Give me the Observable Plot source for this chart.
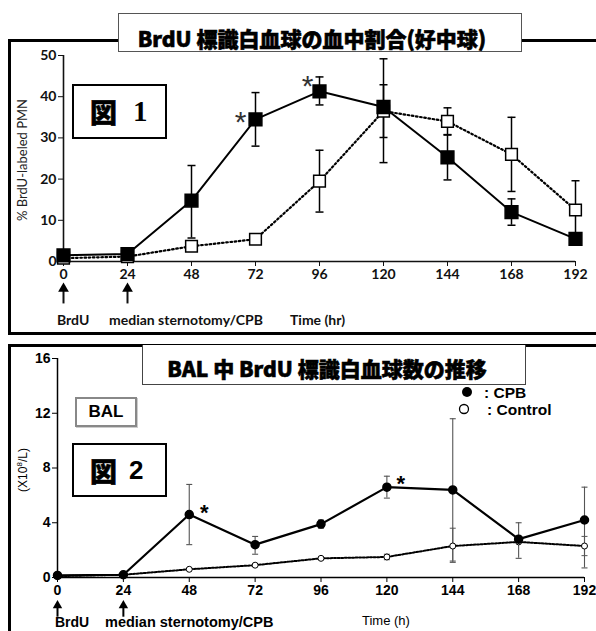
<!DOCTYPE html>
<html><head><meta charset="utf-8">
<script src="https://cdn.jsdelivr.net/npm/d3@7"></script>
<script src="https://cdn.jsdelivr.net/npm/@observablehq/plot@0.6"></script>
<style>
body{margin:0;background:#fff;}
#wrap{position:relative;width:596px;height:631px;overflow:hidden;background:#fff;}
.abs{position:absolute;}
.frame{position:absolute;border:3px solid #000;box-sizing:border-box;}
.plot{position:absolute;left:0;}
.title{position:absolute;background:#fff;box-sizing:border-box;display:flex;justify-content:center;align-items:flex-end;
  font-family:"Noto Sans CJK JP",sans-serif;font-weight:900;font-size:21px;line-height:1;color:#000;white-space:nowrap;
  -webkit-text-stroke:0.6px #000;}
.zu{position:absolute;background:#fff;border:2px solid #000;box-sizing:border-box;display:flex;align-items:center;}
.rot{position:absolute;transform:translate(-50%,-50%) rotate(-90deg);white-space:nowrap;}
.ann{position:absolute;white-space:nowrap;line-height:1;transform:translateY(-50%);}
</style></head><body><div id="wrap">
<div class="frame" style="left:8px;top:39px;width:700px;height:296px;"></div>
<div class="frame" style="left:8px;top:344px;width:700px;height:400px;"></div>
<div id="p1" class="plot" style="top:0px;"></div>
<div id="p2" class="plot" style="top:340px;"></div>

<div class="title" style="left:118px;top:13px;width:404px;height:39px;border:1.5px solid #555;padding-right:16px;padding-bottom:2px;">BrdU 標識白血球の血中割合(好中球)</div>
<div class="zu" style="left:72px;top:84px;width:95px;height:55px;padding-left:16px;">
  <span style="font-family:'Noto Sans CJK JP';font-weight:900;font-size:27px;line-height:1;-webkit-text-stroke:0.5px #000;">図</span>
  <span style="font-family:'Liberation Serif';font-weight:bold;font-size:29px;line-height:1;margin-left:16px;">1</span>
</div>
<div class="rot" style="left:22px;top:160px;font-family:Lato;font-size:13px;color:#222;">% BrdU-labeled PMN</div>
<div class="ann" style="left:57px;top:320px;font-family:Lato;font-weight:bold;font-size:14px;color:#111;">BrdU</div>
<div class="ann" style="left:109px;top:320px;font-family:Lato;font-weight:bold;font-size:14px;color:#111;">median sternotomy/CPB</div>
<div class="ann" style="left:290px;top:320px;font-family:Lato;font-weight:bold;font-size:14px;color:#111;">Time (hr)</div>

<div class="title" style="left:142px;top:345px;width:384px;height:40px;border:1.5px solid #444;border-top:none;padding-right:14px;padding-bottom:5px;">BAL 中 BrdU 標識白血球数の推移</div>
<div class="abs" style="left:75px;top:397px;width:62px;height:30px;border:2px solid #888;box-sizing:border-box;box-shadow:1px 1px 0 #ccc;background:#fff;display:flex;align-items:center;justify-content:center;font-family:'Liberation Sans';font-weight:bold;font-size:17px;">BAL</div>
<div class="zu" style="left:72px;top:443px;width:95px;height:54px;padding-left:16px;">
  <span style="font-family:'Noto Sans CJK JP';font-weight:900;font-size:27px;line-height:1;-webkit-text-stroke:0.5px #000;">図</span>
  <span style="font-family:'Liberation Sans';font-weight:bold;font-size:26px;line-height:1;margin-left:12px;">2</span>
</div>
<svg class="abs" style="left:455px;top:383px;" width="30" height="36"><circle cx="12" cy="9" r="5" fill="#000"/><circle cx="9" cy="26" r="4.5" fill="#fff" stroke="#000" stroke-width="1.3"/></svg>
<div class="ann" style="left:484px;top:393px;font-family:'Liberation Sans';font-weight:bold;font-size:15.5px;">: CPB</div>
<div class="ann" style="left:487px;top:410px;font-family:'Liberation Sans';font-weight:bold;font-size:15.5px;">: Control</div>
<div class="rot" style="left:22px;top:470px;font-family:'Liberation Sans';font-size:12px;">(X10<sup style="font-size:8px;">8</sup>/L)</div>
<div class="ann" style="left:55px;top:622px;font-family:'Liberation Sans';font-weight:bold;font-size:14px;">BrdU</div>
<div class="ann" style="left:105px;top:622px;font-family:'Liberation Sans';font-weight:bold;font-size:14.5px;">median sternotomy/CPB</div>
<div class="ann" style="left:362px;top:620px;font-family:'Liberation Sans';font-size:13px;">Time (h)</div>
</div>
<script>
// ---- shared ----
const hours = [0, 24, 48, 72, 96, 120, 144, 168, 192];
const xTicks = [0, 24, 48, 72, 96, 120, 144, 168, 192];
const arrowHours = [0, 24];

// ---- Figure 1: % BrdU-labeled PMN ----
const fig1YTicks = [0, 10, 20, 30, 40, 50];
const fig1CpbMean = [1.5, 1.8, 14.8, 34.5, 41.3, 37.5, 25.3, 12.0, 5.5];
const fig1CpbHigh = [null, null, 23.3, 41.0, 44.8, 49.2, 30.8, 15.2, null];
const fig1CpbLow  = [null, null, 5.7, 28.0, 38.0, 24.0, 19.8, 8.8, null];
const fig1CtlMean = [0.8, 1.2, 3.7, 5.4, 19.5, 36.5, 34.0, 26.0, 12.5];
const fig1CtlHigh = [null, null, null, null, 27.0, 42.9, 37.3, 35.0, 19.6];
const fig1CtlLow  = [null, null, null, null, 12.0, 30.1, 30.7, 17.0, 5.4];
const fig1Sig = [72, 96];

// ---- Figure 2: BAL BrdU-labeled leukocytes ----
const fig2YTicks = [0, 4, 8, 12, 16];
const fig2CpbMean = [0.15, 0.2, 4.6, 2.4, 3.9, 6.6, 6.4, 2.8, 4.2];
const fig2CpbHigh = [null, null, 6.8, 3.0, 4.2, 7.4, 11.6, 4.0, 6.6];
const fig2CpbLow  = [null, null, 2.4, 1.7, 3.6, 5.8, 1.2, 1.4, 0.7];
const fig2CtlMean = [0.1, 0.2, 0.6, 0.9, 1.4, 1.5, 2.3, 2.6, 2.3];
const fig2CtlHigh = [null, null, null, null, null, 1.7, 3.6, null, 3.0];
const fig2CtlLow  = [null, null, null, null, null, 1.3, 1.1, null, 1.6];
const fig2Sig = [48, 120];

const rows = (m, hi, lo) => hours.map((t, i) => ({t, m: m[i], hi: hi[i], lo: lo[i]}));
const withErr = d => d.filter(r => r.hi != null);
const cap = {draw(ctx, size) { const w = Math.sqrt(size / Math.PI); ctx.moveTo(-w, 0); ctx.lineTo(w, 0); }};

const f1cpb = rows(fig1CpbMean, fig1CpbHigh, fig1CpbLow);
const f1ctl = rows(fig1CtlMean, fig1CtlHigh, fig1CtlLow);
const f2cpb = rows(fig2CpbMean, fig2CpbHigh, fig2CpbLow);
const f2ctl = rows(fig2CtlMean, fig2CtlHigh, fig2CtlLow);
const sigRow = (data, hour) => data.filter(r => r.t === hour);

function errMarks(data, color, width, capR) {
  const d = withErr(data);
  return [
    Plot.ruleX(d, {x: "t", y1: "lo", y2: "hi", stroke: color, strokeWidth: width}),
    Plot.dot(d, {x: "t", y: "hi", symbol: cap, r: capR, stroke: color, strokeWidth: width}),
    Plot.dot(d, {x: "t", y: "lo", symbol: cap, r: capR, stroke: color, strokeWidth: width})
  ];
}

const star1 = {x: "t", y: "m", text: () => "*", fontSize: 30, fontWeight: "normal", fontFamily: "Liberation Sans", fill: "#333"};
const star2 = {x: "t", y: "m", text: () => "*", fontSize: 22, fontWeight: "bold", fontFamily: "Liberation Sans", fill: "#000"};

const p1 = Plot.plot({
  width: 596, height: 335,
  marginLeft: 63, marginRight: 21, marginTop: 55, marginBottom: 74,
  style: {background: "transparent", overflow: "visible", fontFamily: "Lato", fontSize: "14px", fontWeight: "bold", color: "#111"},
  x: {domain: [0, 192], ticks: xTicks, tickSize: 5, tickPadding: 3, label: null},
  y: {domain: [0, 50], ticks: fig1YTicks, tickSize: 5, tickPadding: 2, label: null},
  marks: [
    Plot.ruleX([0], {y1: 0, y2: 50, strokeWidth: 1.6}),
    Plot.ruleY([0], {strokeWidth: 1.6}),
    ...errMarks(f1ctl, "#000", 1.5, 4),
    ...errMarks(f1cpb, "#000", 1.5, 4),
    Plot.line(f1ctl, {x: "t", y: "m", stroke: "#000", strokeWidth: 2.2, strokeDasharray: "1.6,2.6"}),
    Plot.line(f1cpb, {x: "t", y: "m", stroke: "#000", strokeWidth: 2}),
    Plot.dot(f1ctl, {x: "t", y: "m", symbol: "square", r: 6.6, fill: "#fff", stroke: "#000", strokeWidth: 1.5}),
    Plot.dot(f1cpb, {x: "t", y: "m", symbol: "square", r: 7.2, fill: "#000", stroke: "#000"}),
    Plot.text(sigRow(f1cpb, fig1Sig[0]), {...star1, dx: -15, dy: 3}),
    Plot.text(sigRow(f1cpb, fig1Sig[1]), {...star1, dx: -12, dy: -5}),
    Plot.ruleX(arrowHours, {x: d => d, y1: -6.8, y2: -10.3, strokeWidth: 2}),
    Plot.dot(arrowHours, {x: d => d, y: -6.6, symbol: "triangle", r: 4, fill: "#000", stroke: "none"})
  ]
});
document.getElementById("p1").append(p1);

const p2 = Plot.plot({
  width: 596, height: 291,
  marginLeft: 57, marginRight: 12, marginTop: 18, marginBottom: 54,
  style: {background: "transparent", overflow: "visible", fontFamily: "Liberation Sans", fontSize: "14px", fontWeight: "bold", color: "#000"},
  x: {domain: [0, 192], ticks: xTicks, tickSize: 5, tickPadding: 3, label: null},
  y: {domain: [0, 16], ticks: fig2YTicks, tickSize: 5, tickPadding: 2, label: null},
  marks: [
    Plot.ruleX([0], {y1: 0, y2: 16, strokeWidth: 1.5}),
    Plot.ruleY([0], {strokeWidth: 1.5}),
    ...errMarks(f2ctl, "#666", 1.1, 3),
    ...errMarks(f2cpb, "#555", 1.1, 3),
    Plot.line(f2ctl, {x: "t", y: "m", stroke: "#000", strokeWidth: 2, strokeDasharray: "2,1.6"}),
    Plot.line(f2cpb, {x: "t", y: "m", stroke: "#000", strokeWidth: 2.2}),
    Plot.dot(f2ctl, {x: "t", y: "m", r: 3, fill: "#fff", stroke: "#000", strokeWidth: 1}),
    Plot.dot(f2cpb, {x: "t", y: "m", r: 4, fill: "#000", stroke: "#000"}),
    Plot.text(sigRow(f2cpb, fig2Sig[0]), {...star2, dx: 15, dy: -2}),
    Plot.text(sigRow(f2cpb, fig2Sig[1]), {...star2, dx: 14, dy: -3}),
    Plot.ruleX(arrowHours, {x: d => d, y1: -2.1, y2: -2.9, strokeWidth: 2}),
    Plot.dot(arrowHours, {x: d => d, y: -2.05, symbol: "triangle", r: 3.5, fill: "#000", stroke: "none"})
  ]
});
document.getElementById("p2").append(p2);
</script>
</body></html>
